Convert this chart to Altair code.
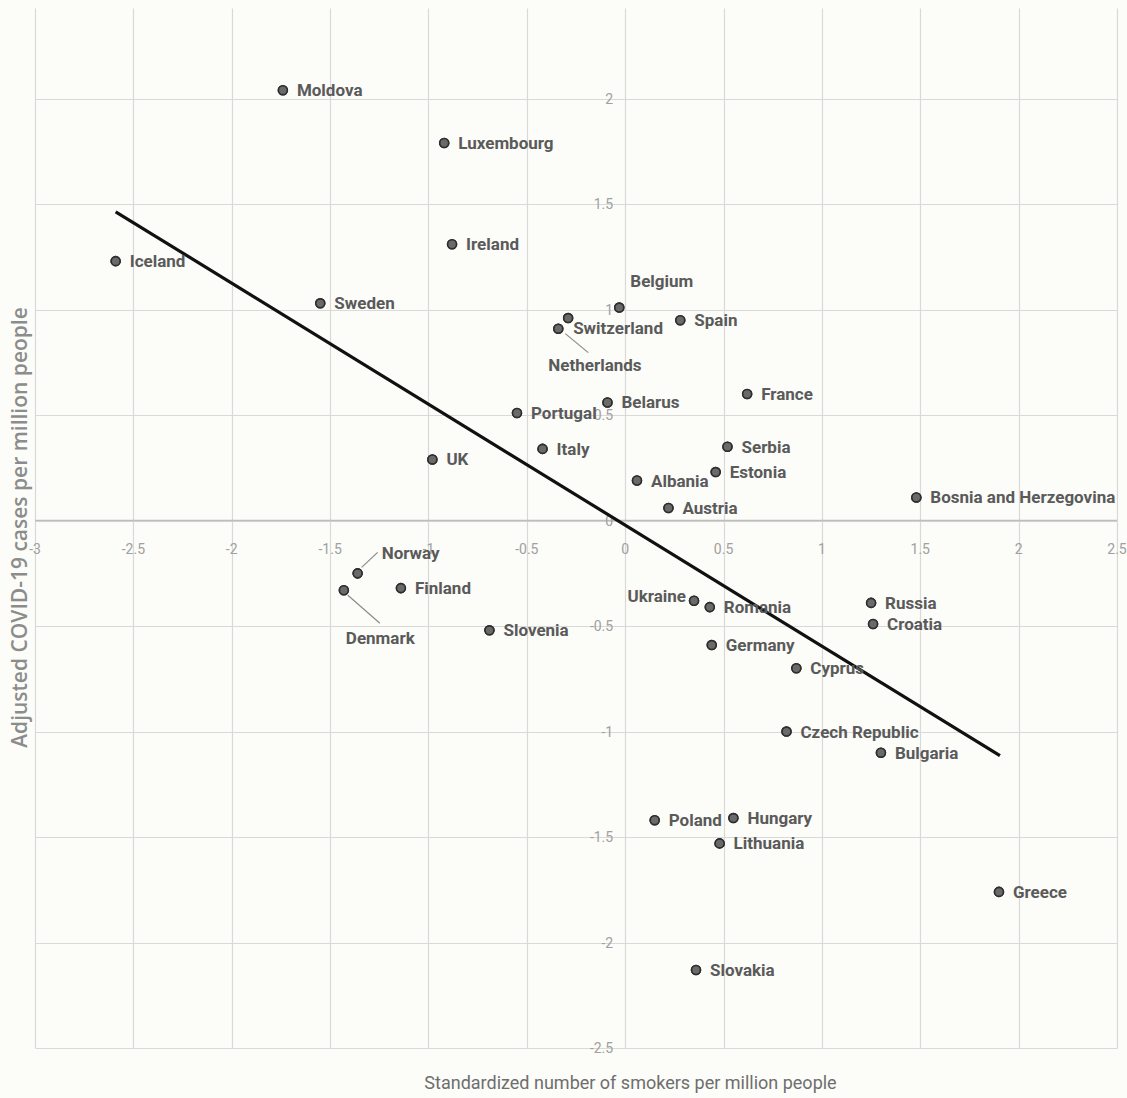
import altair as alt
import pandas as pd

# ---- data ----
countries = [
    "Moldova", "Luxembourg", "Ireland", "Iceland", "Sweden", "Belgium",
    "Switzerland", "Netherlands", "Spain", "Belarus", "Portugal", "France",
    "Italy", "Serbia", "Estonia", "Albania", "Austria", "UK",
    "Bosnia and Herzegovina", "Norway", "Denmark", "Finland", "Slovenia",
    "Ukraine", "Romania", "Germany", "Cyprus", "Russia", "Croatia",
    "Czech Republic", "Bulgaria", "Poland", "Hungary", "Lithuania",
    "Greece", "Slovakia",
]
smokers = [
    -1.74, -0.92, -0.88, -2.59, -1.55, -0.03,
    -0.29, -0.34, 0.28, -0.09, -0.55, 0.62,
    -0.42, 0.52, 0.46, 0.06, 0.22, -0.98,
    1.48, -1.36, -1.43, -1.14, -0.69,
    0.35, 0.43, 0.44, 0.87, 1.25, 1.26,
    0.82, 1.30, 0.15, 0.55, 0.48,
    1.90, 0.36,
]
cases = [
    2.04, 1.79, 1.31, 1.23, 1.03, 1.01,
    0.96, 0.91, 0.95, 0.56, 0.51, 0.60,
    0.34, 0.35, 0.23, 0.19, 0.06, 0.29,
    0.11, -0.25, -0.33, -0.32, -0.52,
    -0.38, -0.41, -0.59, -0.70, -0.39, -0.49,
    -1.00, -1.10, -1.42, -1.41, -1.53,
    -1.76, -2.13,
]
trend_x = [-2.59, 1.905]
trend_y = [1.464, -1.114]

x_ticks = [-3, -2.5, -2, -1.5, -1, -0.5, 0, 0.5, 1, 1.5, 2, 2.5]
y_ticks = [-2.5, -2, -1.5, -1, -0.5, 0, 0.5, 1, 1.5, 2]


def fmt(v):
    return str(int(v)) if float(v).is_integer() else str(v)


df = pd.DataFrame({"country": countries, "x": smokers, "y": cases})
trend = pd.DataFrame({"x": trend_x, "y": trend_y})
xt = pd.DataFrame({"v": x_ticks, "label": [fmt(v) for v in x_ticks], "zero": 0})
yt = pd.DataFrame({"v": y_ticks, "label": [fmt(v) for v in y_ticks], "zero": 0})

LABEL_FONT = "Roboto, Liberation Sans, sans-serif"
GRID = "#d9d9d9"

xs = alt.Scale(domain=[-3, 2.5], nice=False, zero=False)
ys = alt.Scale(domain=[-2.5, 2.43], nice=False, zero=False)

x_axis = alt.Axis(
    values=x_ticks, grid=True, gridColor=GRID, gridWidth=1.2, labels=False,
    ticks=False, domain=False,
    title="Standardized number of smokers per million people",
    titleFont=LABEL_FONT, titleFontSize=18, titleFontWeight="normal",
    titleColor="#6e6e6e", titleX=595, titleY=35, titleAlign="center",
    titleBaseline="middle",
)
y_axis = alt.Axis(
    values=y_ticks, grid=True, gridColor=GRID, gridWidth=1.2, labels=False,
    ticks=False, domain=False,
    title="Adjusted COVID-19 cases per million people",
    titleFont="Open Sans", titleFontSize=21, titleFontWeight=600,
    titleColor="#8c8c8c", titleX=-15, titleY=519, titleAngle=270,
    titleAlign="center", titleBaseline="middle",
)

base = alt.Chart(df)

points = base.mark_point(
    filled=True, shape="circle", size=80, fill="#6a6a6a", stroke="#2e2e2e",
    strokeWidth=1.6, opacity=1,
).encode(
    x=alt.X("x:Q", scale=xs, axis=x_axis),
    y=alt.Y("y:Q", scale=ys, axis=y_axis),
)

zero_line = alt.Chart(pd.DataFrame({"v": [0]})).mark_rule(
    color="#bdbdbd", strokeWidth=1.5
).encode(y=alt.Y("v:Q", scale=ys))

trend_line = alt.Chart(trend).mark_line(color="#111111", strokeWidth=3.2).encode(
    x=alt.X("x:Q", scale=xs), y=alt.Y("y:Q", scale=ys)
)

special = {
    "Switzerland": dict(dx=5, dy=11, align="left"),
    "Belgium": dict(dx=11, dy=-26, align="left"),
    "Netherlands": dict(dx=-10, dy=37, align="left"),
    "Ukraine": dict(dx=-8, dy=-4, align="right"),
    "Norway": dict(dx=24, dy=-19, align="left"),
    "Denmark": dict(dx=2, dy=49, align="left"),
}

LABEL_STYLE = dict(font=LABEL_FONT, fontSize=17, fontWeight="bold", color="#5a5a5a",
                   baseline="middle")


def label_layer(names, dx, dy, align):
    return base.transform_filter(
        alt.FieldOneOfPredicate(field="country", oneOf=names)
    ).mark_text(dx=dx, dy=dy, align=align, **LABEL_STYLE).encode(
        x=alt.X("x:Q", scale=xs), y=alt.Y("y:Q", scale=ys), text="country:N"
    )


default_names = [c for c in countries if c not in special]
label_layers = [label_layer(default_names, 14, 1, "left")]
for name, o in special.items():
    label_layers.append(label_layer([name], o["dx"], o["dy"], o["align"]))

leaders_spec = {
    "Norway": (4, -6, 20, -21),
    "Denmark": (4, 5, 36, 33),
    "Netherlands": (7, 5, 30, 24),
}
leader_layers = []
for name, (ox, oy, ox2, oy2) in leaders_spec.items():
    leader_layers.append(
        base.transform_filter(alt.datum.country == name).mark_rule(
            color="#8a8a8a", strokeWidth=1.2, xOffset=ox, yOffset=oy,
            x2Offset=ox2, y2Offset=oy2,
        ).encode(
            x=alt.X("x:Q", scale=xs), y=alt.Y("y:Q", scale=ys),
            x2="x:Q", y2="y:Q",
        )
    )

TICK_STYLE = dict(font=LABEL_FONT, fontSize=14, color="#a0a0a0", baseline="middle")

x_labels = alt.Chart(xt).mark_text(align="center", dy=29, **TICK_STYLE).encode(
    x=alt.X("v:Q", scale=xs), y=alt.Y("zero:Q", scale=ys), text="label:N"
)
y_labels = alt.Chart(yt).mark_text(align="right", dx=-12, dy=1, **TICK_STYLE).encode(
    x=alt.X("zero:Q", scale=xs), y=alt.Y("v:Q", scale=ys), text="label:N"
)

chart = alt.layer(
    points, zero_line, x_labels, y_labels, trend_line, *leader_layers, points,
    *label_layers,
).properties(
    width=1082, height=1040,
    autosize=alt.AutoSizeParams(type="none"),
    padding={"left": 35, "top": 8, "right": 10, "bottom": 50},
    background="#fcfcf8",
).configure_view(stroke=None)

chart.save("out.html", embed_options={"renderer": "svg", "actions": False})
